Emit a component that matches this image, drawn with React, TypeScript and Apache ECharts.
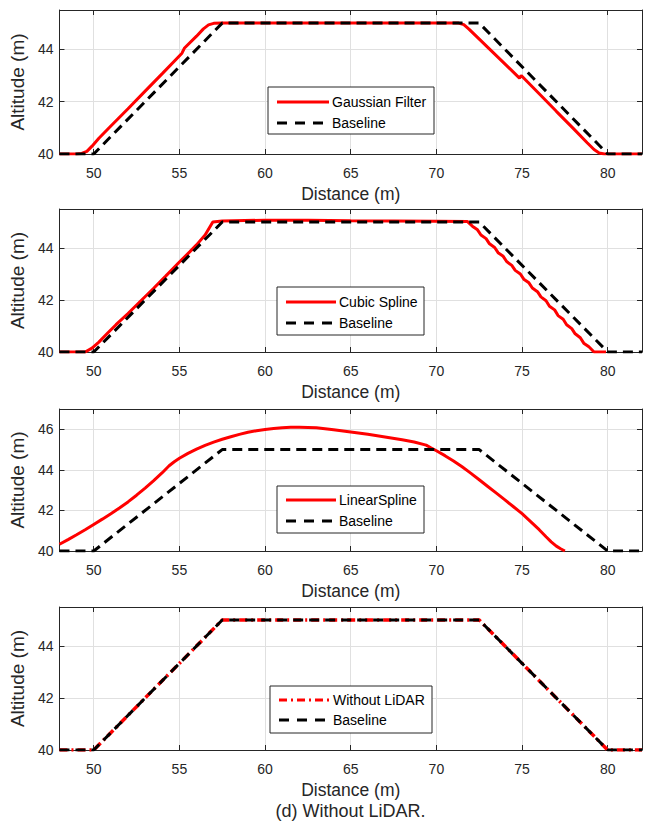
import React, { useEffect, useRef } from "react";
import * as echarts from "echarts";

// ---- axis ticks ----
const xTicks = [50, 55, 60, 65, 70, 75, 80];
const xMin = 48;
const xMax = 82;
const yTicksLow = [40, 42, 44];
const yTicksHigh = [40, 42, 44, 46];

// ---- labels ----
const xName = "Distance (m)";
const yName = "Altitude (m)";
const caption = "(d) Without LiDAR.";
const redNames = ["Gaussian Filter", "Cubic Spline", "LinearSpline", "Without LiDAR"];
const baseName = "Baseline";

// ---- baseline profile ----
const baselineX = [48, 50, 57.5, 72.5, 80, 82];
const baselineY = [40, 40, 45, 45, 40, 40];

// ---- (a) Gaussian filter ----
const gaussX = [48, 49, 49.3, 49.6, 49.9, 50.3, 51, 52, 53, 54, 55.15, 55.3, 56, 56.4, 56.7, 57, 57.5, 65, 71.3, 71.6, 71.9, 73, 74.85, 74.95, 76, 77, 78, 78.8, 79.2, 79.5, 79.8, 82];
const gaussY = [40, 40, 40.02, 40.1, 40.3, 40.6, 41.07, 41.73, 42.4, 43.07, 43.85, 44.05, 44.5, 44.78, 44.93, 44.99, 45, 45, 45, 44.94, 44.77, 44.07, 42.9, 43.0, 42.3, 41.63, 40.97, 40.43, 40.17, 40.04, 40, 40];

// ---- (b) Cubic spline ----
const cubicX = [48, 49.5, 49.9, 50.3, 50.8, 51.3, 52, 52.8, 53.5, 54.2, 55, 55.6, 56, 56.5, 56.95, 57.5, 60, 62.5, 65, 70, 71.8, 72.1, 72.4, 72.6, 72.9, 73.1, 73.4, 73.6, 73.9, 74.1, 74.4, 74.6, 74.9, 75.1, 75.4, 75.6, 75.9, 76.1, 76.4, 76.6, 76.9, 77.1, 77.4, 77.6, 77.9, 78.1, 78.4, 78.6, 78.9, 79.2, 79.9];
const cubicY = [40, 40, 40.15, 40.38, 40.72, 41.05, 41.48, 42.0, 42.45, 42.92, 43.46, 43.85, 44.12, 44.5, 45.0, 45.04, 45.07, 45.07, 45.05, 45.03, 45.02, 44.84, 44.7, 44.5, 44.36, 44.16, 44.02, 43.82, 43.68, 43.48, 43.33, 43.14, 43.0, 42.8, 42.66, 42.46, 42.32, 42.12, 41.97, 41.76, 41.62, 41.4, 41.26, 41.05, 40.9, 40.7, 40.55, 40.34, 40.2, 40.0, 40.0];

// ---- (c) Linear spline ----
const linearX = [48, 48.5, 49, 49.5, 50, 50.5, 51, 51.5, 52, 52.5, 53, 53.5, 54, 54.4, 54.7, 55, 55.5, 56, 56.5, 57, 57.5, 58, 58.5, 59, 59.5, 60, 60.5, 61, 61.5, 62, 62.5, 63, 63.5, 64, 65, 66, 67, 68, 68.7, 69.4, 69.7, 70, 70.5, 71, 71.5, 72, 72.5, 73, 73.5, 74, 74.5, 75, 75.5, 76, 76.4, 76.7, 77, 77.25, 77.5];
const linearY = [40.33, 40.56, 40.8, 41.05, 41.31, 41.57, 41.84, 42.12, 42.42, 42.75, 43.1, 43.47, 43.86, 44.2, 44.4, 44.57, 44.81, 45.02, 45.21, 45.37, 45.51, 45.63, 45.75, 45.85, 45.93, 45.99, 46.04, 46.08, 46.1, 46.1, 46.09, 46.07, 46.03, 45.98, 45.87, 45.75, 45.62, 45.48, 45.37, 45.22, 45.08, 44.94, 44.7, 44.44, 44.15, 43.84, 43.51, 43.18, 42.85, 42.52, 42.18, 41.84, 41.45, 41.05, 40.7, 40.45, 40.24, 40.11, 40.0];

// ---- (d) Without LiDAR ----
const noLidarX = [48, 50, 57.5, 72.5, 80, 82];
const noLidarY = [40, 40, 45, 45, 40, 40];

const zip = (xs: number[], ys: number[]) => xs.map((x, i) => [x, ys[i]]);

const FONT = "'Liberation Sans', Arial, Helvetica, sans-serif";
const AXIS_COLOR = "#262626";
const GRID_COLOR = "#e0e0e0";
const DASH = [10, 6];
const DASHDOT = [8, 4, 2, 4];

export default function App() {
  const ref = useRef<HTMLDivElement>(null);

  useEffect(() => {
    document.body.style.margin = "0";
    document.body.style.overflow = "hidden";
    if (!ref.current) return;
    const chart = echarts.init(ref.current, null, { renderer: "svg" });

    const panels = [
      { top: 10, height: 144, yMax: 45.5, yTicks: yTicksLow, red: zip(gaussX, gaussY), redDash: "solid" as any,
        legend: { x: 268, y: 87, w: 166, h: 47, lx1: 277, lx2: 329, tx: 332, r1: 102, r2: 123 } },
      { top: 209, height: 143, yMax: 45.5, yTicks: yTicksLow, red: zip(cubicX, cubicY), redDash: "solid" as any,
        legend: { x: 277, y: 287, w: 147, h: 48, lx1: 286, lx2: 336, tx: 339, r1: 302, r2: 323 } },
      { top: 409, height: 142, yMax: 47, yTicks: yTicksHigh, red: zip(linearX, linearY), redDash: "solid" as any,
        legend: { x: 277, y: 486, w: 147, h: 47, lx1: 286, lx2: 336, tx: 339, r1: 500, r2: 521 } },
      { top: 607, height: 143, yMax: 45.5, yTicks: yTicksLow, red: zip(noLidarX, noLidarY), redDash: DASHDOT as any,
        legend: { x: 270, y: 686, w: 162, h: 47, lx1: 279, lx2: 330, tx: 333, r1: 700, r2: 720 } },
    ];

    const grid: any[] = [];
    const xAxis: any[] = [];
    const yAxis: any[] = [];
    const series: any[] = [];
    const graphic: any[] = [];

    panels.forEach((p, i) => {
      grid.push({ left: 59, top: p.top, width: 583, height: p.height, containLabel: false });
      // bottom x axis
      xAxis.push({
        type: "value", gridIndex: i, min: xMin, max: xMax, splitNumber: 7, position: "bottom",
        name: xName, nameLocation: "middle", nameGap: 31,
        nameTextStyle: { fontSize: 17.5, color: AXIS_COLOR, fontFamily: FONT },
        axisLine: { show: true, onZero: false, lineStyle: { color: AXIS_COLOR, width: 1 } },
        axisTick: { show: true, inside: true, length: 5, lineStyle: { color: AXIS_COLOR } },
        axisLabel: {
          margin: 12, fontSize: 14, color: AXIS_COLOR, fontFamily: FONT,
          showMinLabel: false, showMaxLabel: false,
          formatter: (v: number) => (xTicks.includes(v) ? String(v) : ""),
        },
        splitLine: { show: true, lineStyle: { color: GRID_COLOR, width: 1 } },
      });
      // top x axis (box)
      xAxis.push({
        type: "value", gridIndex: i, min: xMin, max: xMax, splitNumber: 7, position: "top",
        axisLine: { show: true, onZero: false, lineStyle: { color: AXIS_COLOR, width: 1 } },
        axisTick: { show: true, inside: true, length: 5, lineStyle: { color: AXIS_COLOR } },
        axisLabel: { show: false },
        splitLine: { show: false },
      });
      // left y axis
      yAxis.push({
        type: "value", gridIndex: i, min: 40, max: p.yMax, interval: 2, position: "left",
        name: yName, nameLocation: "middle", nameGap: 28,
        nameTextStyle: { fontSize: 19, color: AXIS_COLOR, fontFamily: FONT },
        axisLine: { show: true, onZero: false, lineStyle: { color: AXIS_COLOR, width: 1 } },
        axisTick: { show: true, inside: true, length: 5, lineStyle: { color: AXIS_COLOR } },
        axisLabel: {
          margin: 6, fontSize: 14, color: AXIS_COLOR, fontFamily: FONT,
          formatter: (v: number) => (p.yTicks.includes(v) ? String(v) : ""),
        },
        splitLine: { show: true, lineStyle: { color: GRID_COLOR, width: 1 } },
      });
      // right y axis (box)
      yAxis.push({
        type: "value", gridIndex: i, min: 40, max: p.yMax, interval: 2, position: "right",
        axisLine: { show: true, onZero: false, lineStyle: { color: AXIS_COLOR, width: 1 } },
        axisTick: { show: true, inside: true, length: 5, lineStyle: { color: AXIS_COLOR } },
        axisLabel: { show: false },
        splitLine: { show: false },
      });

      series.push({
        name: redNames[i], type: "line", xAxisIndex: 2 * i, yAxisIndex: 2 * i,
        data: p.red, symbol: "none", showSymbol: false, z: 3,
        lineStyle: { color: "#ff0000", width: i === 3 ? 3.5 : 3, type: p.redDash },
      });
      series.push({
        name: baseName, type: "line", xAxisIndex: 2 * i, yAxisIndex: 2 * i,
        data: zip(baselineX, baselineY), symbol: "none", showSymbol: false, z: 4,
        lineStyle: { color: "#000000", width: 3, type: DASH },
      });

      const L = p.legend;
      graphic.push({
        type: "rect", z: 100,
        shape: { x: L.x, y: L.y, width: L.w, height: L.h },
        style: { fill: "#ffffff", stroke: AXIS_COLOR, lineWidth: 1 },
      });
      graphic.push({
        type: "line", z: 101,
        shape: { x1: L.lx1, y1: L.r1, x2: L.lx2, y2: L.r1 },
        style: { stroke: "#ff0000", lineWidth: 3, lineDash: i === 3 ? DASHDOT : null },
      });
      graphic.push({
        type: "line", z: 101,
        shape: { x1: L.lx1, y1: L.r2, x2: L.lx2, y2: L.r2 },
        style: { stroke: "#000000", lineWidth: 3, lineDash: [10, 8] },
      });
      graphic.push({
        type: "text", z: 101, x: L.tx, y: L.r1,
        style: { text: redNames[i], fill: "#000000", fontSize: 14, fontFamily: FONT, align: "left", verticalAlign: "middle" },
      });
      graphic.push({
        type: "text", z: 101, x: L.tx, y: L.r2,
        style: { text: baseName, fill: "#000000", fontSize: 14, fontFamily: FONT, align: "left", verticalAlign: "middle" },
      });
    });

    graphic.push({
      type: "text", z: 101, x: 350.5, y: 811,
      style: { text: caption, fill: AXIS_COLOR, fontSize: 18, fontFamily: FONT, align: "center", verticalAlign: "middle" },
    });

    chart.setOption({
      animation: false,
      backgroundColor: "#ffffff",
      grid, xAxis, yAxis, series, graphic,
    });

    return () => chart.dispose();
  }, []);

  return <div ref={ref} style={{ width: 646, height: 829 }} />;
}
